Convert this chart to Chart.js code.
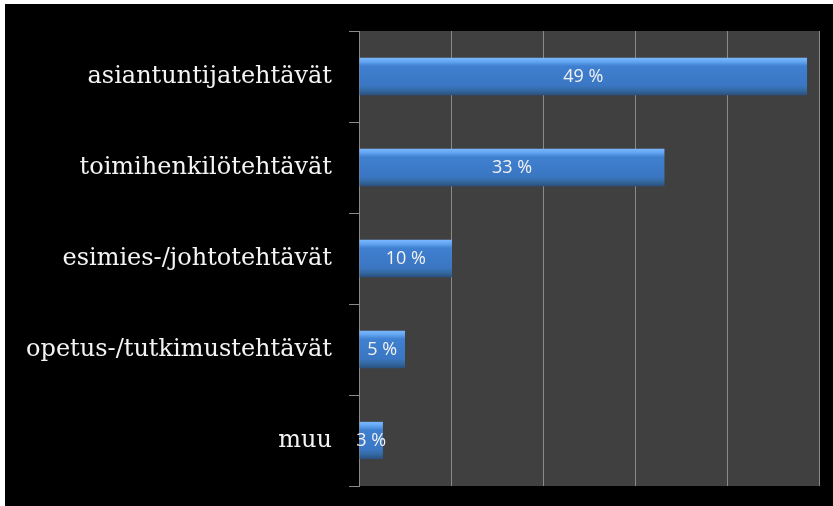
<!DOCTYPE html>
<html>
<head>
<meta charset="utf-8">
<script src="https://cdn.jsdelivr.net/npm/chart.js@4/dist/chart.umd.min.js"></script>
<style>
  body { margin: 0; background: #fff; }
  #box { position: absolute; left: 5px; top: 4px; width: 828px; height: 502px; background: #000; }
</style>
</head>
<body>
<div id="box"><canvas id="myChart" width="828" height="502"></canvas></div>
<script>
// tehtävät ja osuudet (%)
const categories = ['asiantuntijatehtävät', 'toimihenkilötehtävät', 'esimies-/johtotehtävät', 'opetus-/tutkimustehtävät', 'muu'];
const values = [48.7, 33.2, 10.1, 5, 2.6];
const valueLabels = ['49 %', '33 %', '10 %', '5 %', '3 %'];

const barPct = 0.41;

// harmaa tausta piirtoalueelle
const plotBg = {
    id: 'plotBg',
    beforeDraw(chart) {
        const { ctx, chartArea: a } = chart;
        ctx.save();
        ctx.fillStyle = '#404040';
        ctx.fillRect(a.left, a.top, a.right - a.left, a.bottom - a.top);
        ctx.restore();
    }
};

// prosenttiluvut palkkien keskelle
const barLabels = {
    id: 'barLabels',
    afterDatasetsDraw(chart) {
        const ctx = chart.ctx;
        const meta = chart.getDatasetMeta(0);
        ctx.save();
        ctx.font = '18px "Open Sans", sans-serif';
        ctx.fillStyle = '#f2f2f2';
        ctx.textAlign = 'center';
        ctx.textBaseline = 'middle';
        meta.data.forEach((bar, i) => {
            const x = (bar.x + bar.base) / 2;
            ctx.fillText(valueLabels[i], x, bar.y);
        });
        ctx.restore();
    }
};

function barFill(c) {
    const y = c.chart.scales.y;
    if (!y || y.top === undefined) return '#3a78c8';
    const cy = y.getPixelForValue(c.dataIndex);
    const h = (y.bottom - y.top) / categories.length * barPct / 2;
    const g = c.chart.ctx.createLinearGradient(0, cy - h, 0, cy + h);
    g.addColorStop(0, '#7ab8ff');
    g.addColorStop(0.1, '#63a6f2');
    g.addColorStop(0.22, '#3f80d0');
    g.addColorStop(0.75, '#3a76c2');
    g.addColorStop(0.88, '#33689f');
    g.addColorStop(1, '#2a4f7e');
    return g;
}

const ctx = document.getElementById('myChart');

new Chart(ctx, {
    type: 'bar',
    data: {
        labels: categories,
        datasets: [{
            data: values,
            backgroundColor: barFill,
            borderWidth: 0,
            categoryPercentage: 1,
            barPercentage: barPct
        }]
    },
    options: {
        indexAxis: 'y',
        responsive: false,
        animation: false,
        layout: { padding: { left: 0, right: 14, top: 27, bottom: 20 } },
        plugins: { legend: { display: false }, tooltip: { enabled: false } },
        scales: {
            x: {
                min: 0,
                max: 50,
                ticks: { display: false, stepSize: 10 },
                grid: { color: '#8a8a8a', drawTicks: false },
                border: { display: false }
            },
            y: {
                afterFit(scale) {
                    scale.width = 354;
                    scale.paddingTop = 0;
                    scale.paddingBottom = 0;
                },
                grid: { offset: true, drawOnChartArea: false, drawTicks: true, tickLength: 10, color: '#8a8a8a' },
                border: { display: true, color: '#8a8a8a' },
                ticks: {
                    color: '#f4f4f4',
                    padding: 17,
                    font: { family: '"DejaVu Serif", serif', size: 24 }
                }
            }
        }
    },
    plugins: [plotBg, barLabels]
});
</script>
</body>
</html>
